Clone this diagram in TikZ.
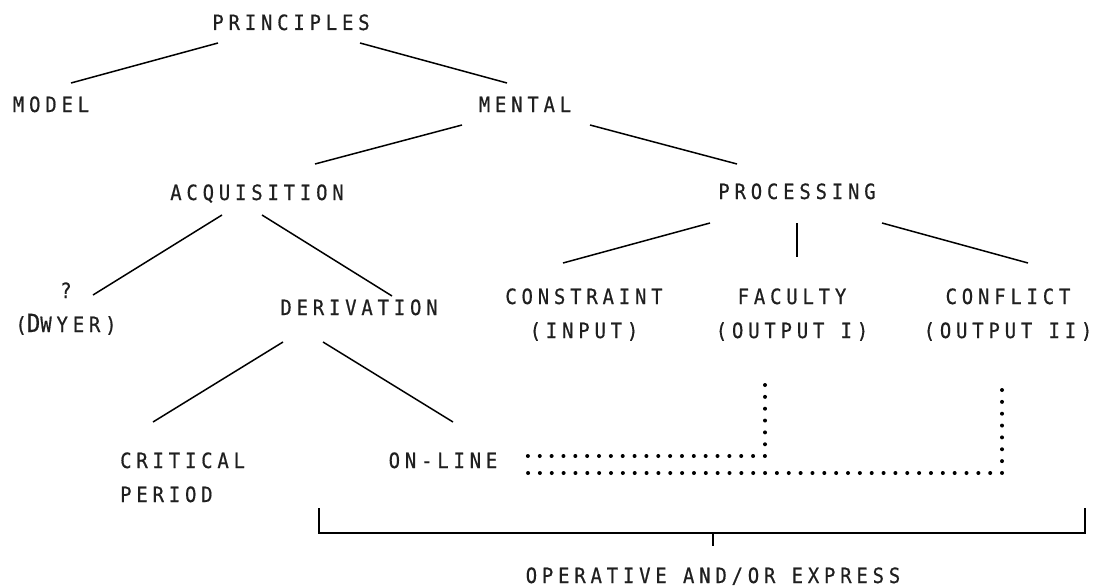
\documentclass[tikz,border=0pt]{standalone}
\usepackage{fontspec}
\newfontfamily\labfont{DejaVu Sans Mono}[LetterSpace=23,FakeStretch=0.9,FakeBold=0.6]
\begin{document}
\begin{tikzpicture}[x=1pt,y=-1pt,
  lab/.style={font=\labfont\fontsize{21}{34}\selectfont, inner sep=0pt, anchor=base, text=black!88},
  conn/.style={line width=1.5pt},
  dotline/.style={line width=4pt, line cap=round, dash pattern=on 0pt off 11.85pt},
  brk/.style={line width=2.6pt}]
\useasboundingbox (0,0) rectangle (1102,586);
% labels
\node[lab] (P) at (291,30) {PRINCIPLES};
\node[lab] (MODEL) at (51,112) {MODEL};
\node[lab] (MENTAL) at (525,112) {MENTAL};
\node[lab] (ACQ) at (257,200) {ACQUISITION};
\node[lab] (PROC) at (797,199) {PROCESSING};
\node[lab, align=center] (DW) at (66,332) {?\\({\fontsize{25}{34}\selectfont D}WYER)};
\node[lab] (DER) at (359,315) {DERIVATION};
\node[lab, align=center] (CON) at (584,338) {CONSTRAINT\\(INPUT)};
\node[lab, align=center] (FAC) at (792,338) {FACULTY\\(OUTPUT I)};
\node[lab, align=center] (CFL) at (1008,338) {CONFLICT\\(OUTPUT II)};
\node[lab, anchor=base west, align=left] (CRIT) at (120,502) {CRITICAL\\PERIOD};
\node[lab] (ONL) at (443,468) {ON-LINE};
\node[lab] (OPER) at (713,583) {OPERATIVE AND/OR EXPRESS};
% tree connectors
\draw[conn] ([shift={(-73,13)}]P.base) -- ([shift={(20,-29)}]MODEL.base);
\draw[conn] ([shift={(69,13)}]P.base) -- ([shift={(-18,-29)}]MENTAL.base);
\draw[conn] ([shift={(-63,13)}]MENTAL.base) -- ([shift={(58,-36)}]ACQ.base);
\draw[conn] ([shift={(65,13)}]MENTAL.base) -- ([shift={(-60,-35)}]PROC.base);
\draw[conn] ([shift={(-35,15)}]ACQ.base) -- ([shift={(27,-37)}]DW.base);
\draw[conn] ([shift={(5,15)}]ACQ.base) -- ([shift={(33,-19)}]DER.base);
\draw[conn] ([shift={(-76,27)}]DER.base) -- ([shift={(33,-80)}]CRIT.base west);
\draw[conn] ([shift={(-36,27)}]DER.base) -- ([shift={(10,-46)}]ONL.base);
\draw[conn] ([shift={(-87,24)}]PROC.base) -- ([shift={(-21,-75)}]CON.base);
\draw[conn] ([shift={(0,24)}]PROC.base) -- ([shift={(5,-81)}]FAC.base);
\draw[conn] ([shift={(85,24)}]PROC.base) -- ([shift={(20,-75)}]CFL.base);
% dotted connectors
\draw[dotline] ([shift={(-27,47)}]FAC.base) |- ([shift={(84,-12)}]ONL.base);
\draw[dotline] ([shift={(-6,52)}]CFL.base) |- ([shift={(84,5)}]ONL.base);
% bracket
\coordinate (BL) at (319,508);
\coordinate (BR) at (1085,508);
\coordinate (BM) at (713,533);
\draw[brk] (BL) -- (319,533) -- (1085,533) -- (BR);
\draw[brk] (BM) -- ([shift={(0,-37)}]OPER.base);
\end{tikzpicture}
\end{document}
